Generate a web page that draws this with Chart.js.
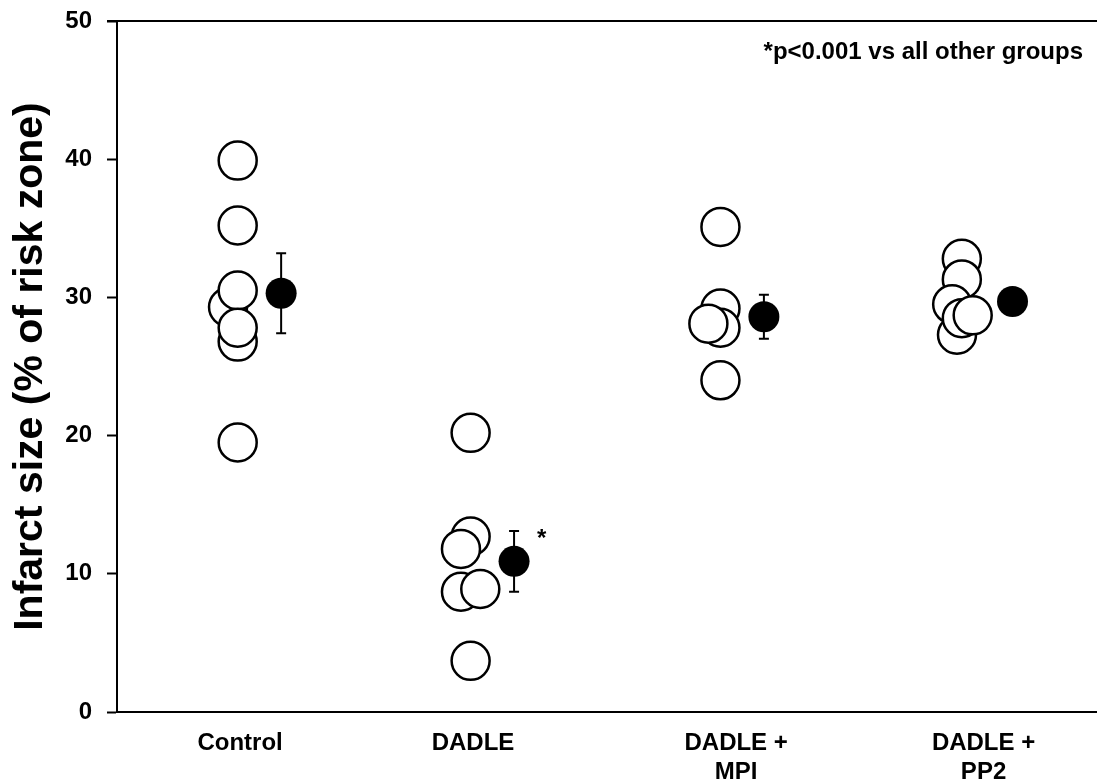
<!DOCTYPE html>
<html>
<head>
<meta charset="utf-8">
<script src="https://cdn.jsdelivr.net/npm/chart.js@4/dist/chart.umd.min.js"></script>
<style>
    html, body { margin: 0; padding: 0; background: #fff; }
    #wrap { width: 1097px; height: 781px; position: relative; }
</style>
</head>
<body>
<div id="wrap"><canvas id="infarctChart"></canvas></div>
<script>
// groups on the x axis and where their labels sit
const groupNames = [["Control"], ["DADLE"], ["DADLE +", "MPI"], ["DADLE +", "PP2"]];
const groupLabelAt = [1.01, 1.975, 3.065, 4.09];

// individual infarct sizes (% of risk zone), in drawing order
const controlValues = [19.5, 39.9, 35.2, 29.3, 26.8, 30.5, 27.8];
const controlJitter = [0, 0, 0, -0.04, 0, 0, 0];
const dadleValues = [20.2, 3.7, 12.7, 11.8, 8.7, 8.9];
const dadleJitter = [-0.035, -0.035, -0.035, -0.075, -0.075, 0.005];
const mpiValues = [35.1, 24.0, 29.2, 27.8, 28.1];
const mpiJitter = [0, 0, 0, 0, -0.05];
const pp2Values = [32.8, 31.3, 29.5, 27.3, 28.5, 28.7];
const pp2Jitter = [0, 0, -0.04, -0.02, 0, 0.045];

// group mean +/- SEM
const groupMeans = [30.3, 10.9, 28.6, 29.7];
const groupSem = [2.9, 2.2, 1.6, 0.9];
const meanShift = [0.18, 0.145, 0.18, 0.21];

const yTicks = [0, 10, 20, 30, 40, 50];
const noteText = "*p<0.001 vs all other groups";

(function (document, window) {
    "use strict";

    const FONT = "'Liberation Sans', Arial, sans-serif";

    const valueSets = [controlValues, dadleValues, mpiValues, pp2Values];
    const jitterSets = [controlJitter, dadleJitter, mpiJitter, pp2Jitter];

    const individualPoints = [];
    valueSets.forEach((vals, g) => {
        vals.forEach((v, i) => {
            individualPoints.push({ x: g + 1 + jitterSets[g][i], y: v });
        });
    });
    const meanPoints = groupMeans.map((m, g) => ({ x: g + 1 + meanShift[g], y: m, sem: groupSem[g] }));

    // error bars, top frame line and the note text
    const extrasPlugin = {
        id: "extras",
        afterDatasetsDraw: (chart) => {
            const { ctx, chartArea, scales } = chart;
            ctx.save();
            ctx.strokeStyle = "#000";
            ctx.lineWidth = 2;
            meanPoints.forEach((p) => {
                const x = scales.x.getPixelForValue(p.x);
                const yTop = scales.y.getPixelForValue(p.y + p.sem);
                const yBot = scales.y.getPixelForValue(p.y - p.sem);
                ctx.beginPath();
                ctx.moveTo(x, yTop);
                ctx.lineTo(x, yBot);
                ctx.moveTo(x - 5, yTop);
                ctx.lineTo(x + 5, yTop);
                ctx.moveTo(x - 5, yBot);
                ctx.lineTo(x + 5, yBot);
                ctx.stroke();
            });

            // top line of the frame
            ctx.beginPath();
            ctx.moveTo(chartArea.left - 10, chartArea.top);
            ctx.lineTo(chartArea.right, chartArea.top);
            ctx.stroke();

            // significance marker next to DADLE
            const star = meanPoints[1];
            ctx.fillStyle = "#000";
            ctx.font = "bold 24px " + FONT;
            ctx.textAlign = "left";
            ctx.textBaseline = "middle";
            ctx.fillText("*", scales.x.getPixelForValue(star.x) + 23, scales.y.getPixelForValue(star.y + star.sem) + 8);

            ctx.textAlign = "right";
            ctx.fillText(noteText, chartArea.right - 14, chartArea.top + 31);
            ctx.restore();
        }
    };

    const ctx = document.getElementById("infarctChart").getContext("2d");

    new Chart(ctx, {
        type: "scatter",
        data: {
            datasets: [
                {
                    data: individualPoints,
                    pointRadius: 19,
                    pointBackgroundColor: "#fff",
                    pointBorderColor: "#000",
                    pointBorderWidth: 2.5,
                    clip: false
                },
                {
                    data: meanPoints,
                    pointRadius: 15.5,
                    pointBackgroundColor: "#000",
                    pointBorderColor: "#000",
                    pointBorderWidth: 0,
                    clip: false
                }
            ]
        },
        options: {
            responsive: true,
            maintainAspectRatio: false,
            animation: false,
            layout: { autoPadding: false, padding: { top: 21, right: 0, bottom: 0, left: 0 } },
            plugins: {
                legend: { display: false },
                tooltip: { enabled: false }
            },
            scales: {
                x: {
                    type: "linear",
                    min: 0.5,
                    max: 4.56,
                    afterBuildTicks: (scale) => {
                        scale.ticks = groupLabelAt.map((v) => ({ value: v }));
                    },
                    afterFit: (scale) => {
                        scale.height = 69;
                        scale.paddingLeft = 0;
                        scale.paddingRight = 0;
                    },
                    grid: { display: true, drawOnChartArea: false, drawTicks: false },
                    border: { display: true, color: "#000", width: 2 },
                    ticks: {
                        autoSkip: false,
                        maxRotation: 0,
                        padding: 17,
                        color: "#000",
                        font: { family: FONT, size: 24, weight: "bold", lineHeight: 1.2 },
                        callback: (value, index) => groupNames[index] || ""
                    }
                },
                y: {
                    min: 0,
                    max: 50,
                    afterBuildTicks: (scale) => {
                        scale.ticks = yTicks.map((v) => ({ value: v }));
                    },
                    afterFit: (scale) => {
                        scale.width = 117;
                        scale.paddingTop = 0;
                        scale.paddingBottom = 0;
                    },
                    grid: {
                        drawOnChartArea: false,
                        tickLength: 10,
                        tickColor: "#000",
                        tickWidth: 2
                    },
                    border: { display: true, color: "#000", width: 2 },
                    ticks: {
                        padding: 15,
                        color: "#000",
                        font: { family: FONT, size: 24, weight: "bold" }
                    },
                    title: {
                        display: true,
                        text: "Infarct size (% of risk zone)",
                        color: "#000",
                        padding: { top: 6, bottom: 0 },
                        font: { family: FONT, size: 41, weight: "bold" }
                    }
                }
            }
        },
        plugins: [extrasPlugin]
    });
})(document, window);
</script>
</body>
</html>
